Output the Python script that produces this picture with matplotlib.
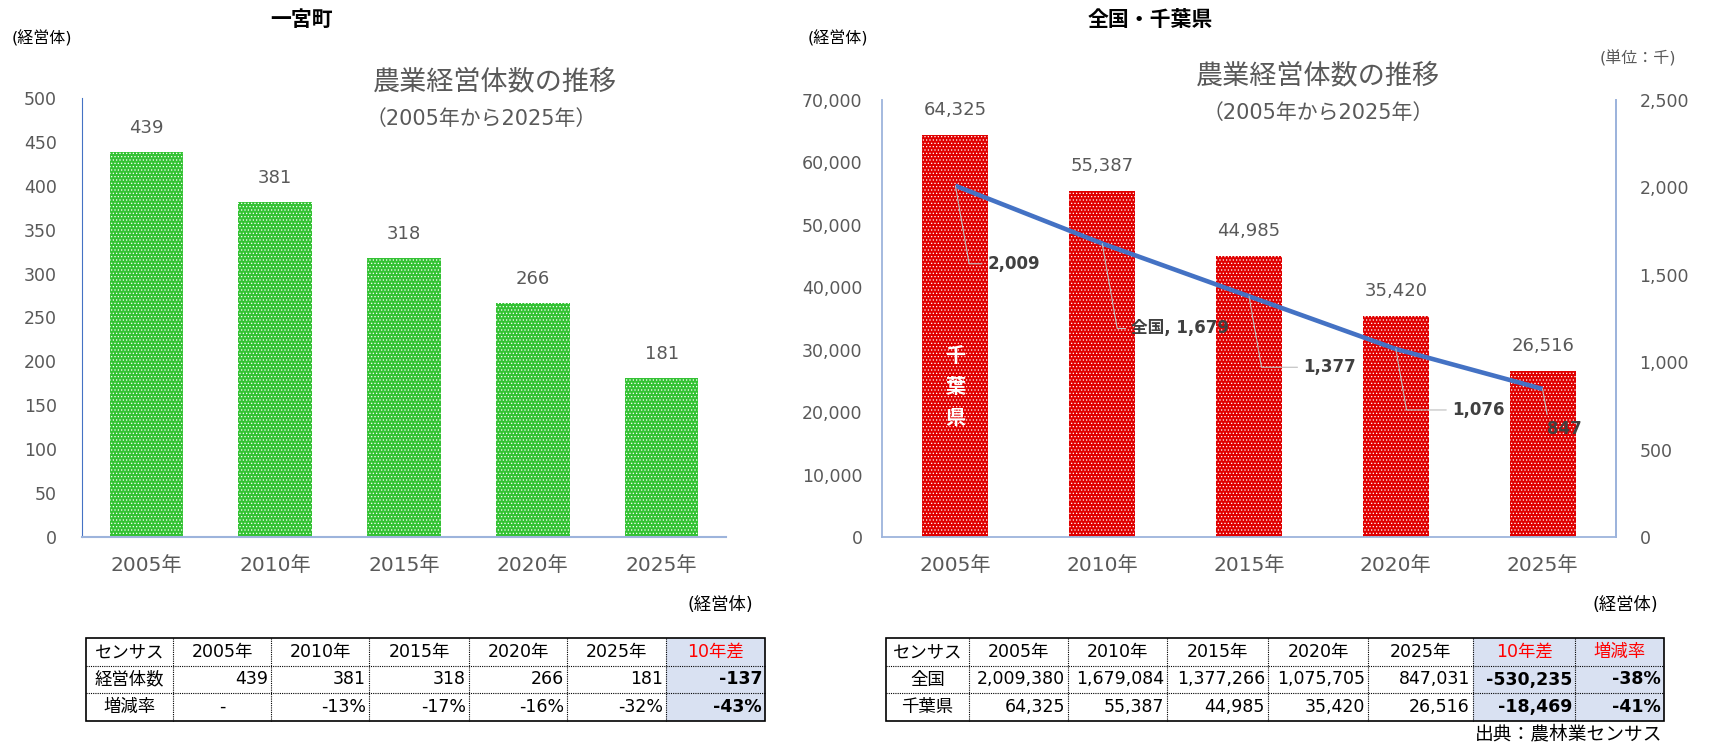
import numpy as np
import matplotlib
matplotlib.use('Agg')
import matplotlib.pyplot as plt
from matplotlib.patches import Rectangle
from matplotlib.ticker import MultipleLocator, FuncFormatter

plt.rcParams['font.family'] = ['DejaVu Sans', 'Noto Sans CJK JP']
plt.rcParams['hatch.linewidth'] = 0.5

# ---- data ----
years = ['2005年', '2010年', '2015年', '2020年', '2025年']
ichinomiya = [439, 381, 318, 266, 181]
ichinomiya_rate = ['-', '-13%', '-17%', '-16%', '-32%']
ichinomiya_diff = '-137'
ichinomiya_diff_rate = '-43%'

chiba = [64325, 55387, 44985, 35420, 26516]
zenkoku = [2009380, 1679084, 1377266, 1075705, 847031]
zenkoku_diff, zenkoku_rate = '-530,235', '-38%'
chiba_diff, chiba_rate = '-18,469', '-41%'

W, H = 1725, 749
GREY = '#595959'
DARK = '#404040'
SPINE = '#9DB4DC'
SHADE = '#D9E1F2'


def frac(x0, x1, ytop, ybot):
    return [x0 / W, (H - ybot) / H, (x1 - x0) / W, (ybot - ytop) / H]


def comma(v, pos=None):
    return f'{int(v):,}'


fig = plt.figure(figsize=(W / 100, H / 100), dpi=100)

# background axes in pixel coordinates for titles and tables
bg = fig.add_axes([0, 0, 1, 1])
bg.set_xlim(0, W)
bg.set_ylim(H, 0)
bg.axis('off')
bg.patch.set_alpha(0)

# ---- left chart: 一宮町 ----
ax = fig.add_axes(frac(82, 726, 98, 537))
ax.patch.set_visible(False)
x = np.arange(len(years))
ax.bar(x, ichinomiya, width=0.57, color='#33C233', edgecolor='white',
       hatch='.....', linewidth=0)
for xi, v in zip(x, ichinomiya):
    ax.annotate(f'{v}', (xi, v), xytext=(0, 24), textcoords='offset pixels',
                ha='center', va='center', fontsize=13, color=GREY)
ax.set_xlim(-0.5, 4.5)
ax.set_ylim(0, 500)
ax.yaxis.set_major_locator(MultipleLocator(50))
ax.set_xticks(x)
ax.set_xticklabels(years)
ax.tick_params(axis='y', length=0, labelsize=12.5, labelcolor=GREY, pad=18)
ax.tick_params(axis='x', length=0, labelsize=14.5, labelcolor=GREY, pad=14)
for s in ['top', 'right']:
    ax.spines[s].set_visible(False)
ax.spines['left'].set_color('#4472C4')
ax.spines['left'].set_linewidth(0.8)
ax.spines['bottom'].set_color(SPINE)
ax.spines['bottom'].set_linewidth(1.5)

# ---- right chart: 全国・千葉県 ----
axr = fig.add_axes(frac(882, 1616, 100, 537))
axr.patch.set_visible(False)
axr.bar(x, chiba, width=0.45, color='#E00000', edgecolor='white',
        hatch='.....', linewidth=0)
for xi, v in zip(x, chiba):
    axr.annotate(comma(v), (xi, v), xytext=(0, 25), textcoords='offset pixels',
                 ha='center', va='center', fontsize=13, color=GREY)
axr.text(0, 24000, '千\n葉\n県', ha='center', va='center', color='white',
         fontsize=14.5, fontweight='bold', linespacing=1.8)
axr.set_xlim(-0.5, 4.5)
axr.set_ylim(0, 70000)
axr.yaxis.set_major_locator(MultipleLocator(10000))
axr.yaxis.set_major_formatter(FuncFormatter(comma))
axr.set_xticks(x)
axr.set_xticklabels(years)
axr.tick_params(axis='y', length=0, labelsize=12.5, labelcolor=GREY, pad=14)
axr.tick_params(axis='x', length=0, labelsize=14.5, labelcolor=GREY, pad=14)
axr.spines['top'].set_visible(False)
for s in ['left', 'right', 'bottom']:
    axr.spines[s].set_color(SPINE)
    axr.spines[s].set_linewidth(1.3)

ax2 = axr.twinx()
ax2.patch.set_visible(False)
zk = np.array(zenkoku) / 1000
ax2.plot(x, zk, color='#4472C4', lw=3.3, solid_capstyle='butt')
ax2.set_ylim(0, 2500)
ax2.yaxis.set_major_locator(MultipleLocator(500))
ax2.yaxis.set_major_formatter(FuncFormatter(comma))
ax2.tick_params(axis='y', length=0, labelsize=12.5, labelcolor=GREY, pad=17)
for s in ['top', 'left', 'bottom']:
    ax2.spines[s].set_visible(False)
ax2.spines['right'].set_color(SPINE)
ax2.spines['right'].set_linewidth(1.3)

offsets = [(32, -78), (29, -85), (54, -71), (56, -61), (4, -40)]
for i, (v, off) in enumerate(zip(zk, offsets)):
    lab = f'{v:,.0f}'
    if i == 1:
        lab = '全国, ' + lab
    ax2.annotate(lab, (i, v), xytext=off, textcoords='offset pixels',
                 ha='left', va='center', fontsize=12, fontweight='bold',
                 color=DARK,
                 arrowprops=dict(arrowstyle='-', color='#BDBDBD', lw=0.8,
                                 shrinkA=2, shrinkB=0,
                                 connectionstyle='angle,angleA=0,angleB=100,rad=0'))

# ---- titles and units ----
bg.text(302, 20, '一宮町', ha='center', va='center', fontsize=15, fontweight='bold')
bg.text(1150, 20, '全国・千葉県', ha='center', va='center', fontsize=15, fontweight='bold')
bg.text(12, 38, '(経営体)', ha='left', va='center', fontsize=11.5, color='black')
bg.text(808, 38, '(経営体)', ha='left', va='center', fontsize=11.5, color='black')
bg.text(1638, 58, '(単位：千)', ha='center', va='center', fontsize=11.5, color=GREY)
bg.text(495, 82, '農業経営体数の推移', ha='center', va='center', fontsize=19.5, color=GREY)
bg.text(481, 119, '（2005年から2025年）', ha='center', va='center', fontsize=15, color=GREY)
bg.text(1318, 76, '農業経営体数の推移', ha='center', va='center', fontsize=19.5, color=GREY)
bg.text(1318, 113, '（2005年から2025年）', ha='center', va='center', fontsize=15, color=GREY)
bg.text(720, 605, '(経営体)', ha='center', va='center', fontsize=12.5, color='black')
bg.text(1625, 605, '(経営体)', ha='center', va='center', fontsize=12.5, color='black')
bg.text(1662, 734, '出典：農林業センサス', ha='right', va='center', fontsize=13.5, color='black')


# ---- tables ----
def draw_table(xe, ye, rows, shade_from):
    ncol = len(xe) - 1
    nrow = len(ye) - 1
    for c in range(shade_from, ncol):
        bg.add_patch(Rectangle((xe[c], ye[0]), xe[c + 1] - xe[c], ye[-1] - ye[0],
                               facecolor=SHADE, edgecolor='none', zorder=1))
    for c in range(1, ncol):
        bg.plot([xe[c], xe[c]], [ye[0], ye[-1]], color='black', lw=0.8,
                ls=(0, (1, 1)), zorder=2)
    for r in range(1, nrow):
        bg.plot([xe[0], xe[-1]], [ye[r], ye[r]], color='black', lw=0.8,
                ls=(0, (1, 1)), zorder=2)
    bg.add_patch(Rectangle((xe[0], ye[0]), xe[-1] - xe[0], ye[-1] - ye[0],
                           facecolor='none', edgecolor='black', lw=1.2, zorder=3))
    for r, row in enumerate(rows):
        yc = (ye[r] + ye[r + 1]) / 2
        for c, txt in enumerate(row):
            shaded = c >= shade_from
            color = 'black'
            weight = 'normal'
            if r == 0 or c == 0 or txt == '-':
                ha, xt = 'center', (xe[c] + xe[c + 1]) / 2
                if r == 0 and shaded:
                    color = '#FF0000'
            else:
                ha, xt = 'right', xe[c + 1] - 3
                if shaded:
                    weight = 'bold'
            bg.text(xt, yc, txt, ha=ha, va='center', fontsize=12.5,
                    color=color, fontweight=weight, zorder=4)


left_rows = [
    ['センサス'] + years + ['10年差'],
    ['経営体数'] + [str(v) for v in ichinomiya] + [ichinomiya_diff],
    ['増減率'] + ichinomiya_rate + [ichinomiya_diff_rate],
]
draw_table([86, 173, 271, 369, 469, 567, 666, 765], [638, 666, 693, 721],
           left_rows, 6)

right_rows = [
    ['センサス'] + years + ['10年差', '増減率'],
    ['全国'] + [comma(v) for v in zenkoku] + [zenkoku_diff, zenkoku_rate],
    ['千葉県'] + [comma(v) for v in chiba] + [chiba_diff, chiba_rate],
]
draw_table([886, 969, 1068, 1167, 1268, 1368, 1473, 1575, 1664],
           [638, 666, 693, 721], right_rows, 6)

fig.savefig('out.png', dpi=100)
